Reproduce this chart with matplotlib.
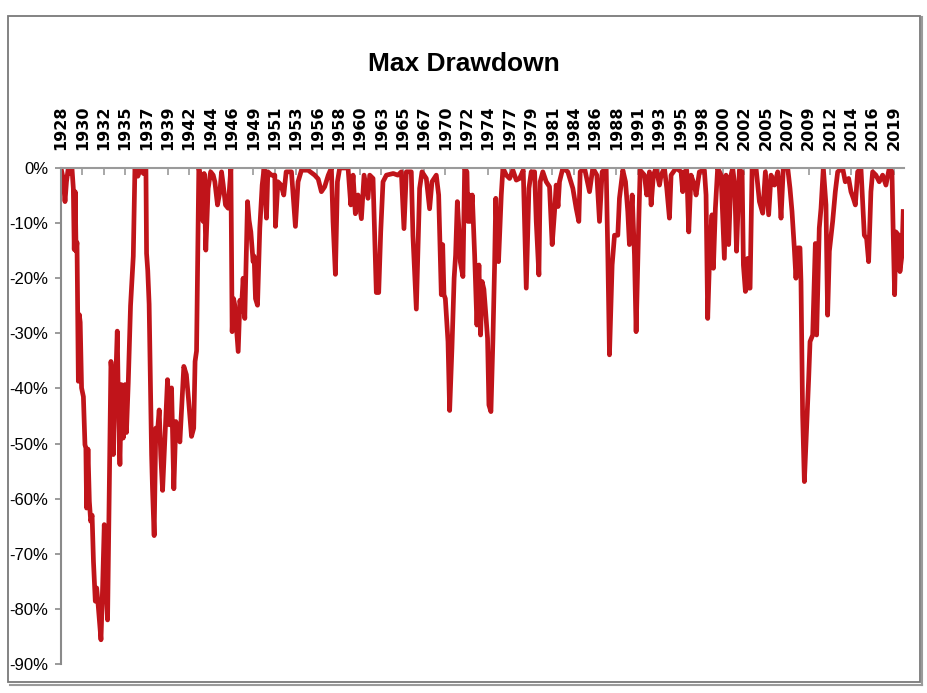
import matplotlib
matplotlib.use("Agg")
import matplotlib.pyplot as plt
from matplotlib.patches import Rectangle
from matplotlib.lines import Line2D

# category labels on the top axis (one every 28 months)
tick_years = [1928, 1930, 1932, 1935, 1937, 1939, 1942, 1944, 1946, 1949,
              1951, 1953, 1956, 1958, 1960, 1963, 1965, 1967, 1970, 1972,
              1974, 1977, 1979, 1981, 1984, 1986, 1988, 1991, 1993, 1995,
              1998, 2000, 2002, 2005, 2007, 2009, 2012, 2014, 2016, 2019]

y_ticks = [0, -10, -20, -30, -40, -50, -60, -70, -80, -90]

# drawdown path (year, % below previous peak)
years = [
    1928.00, 1928.25, 1928.44, 1928.60, 1928.80, 1929.00, 1929.20, 1929.35, 1929.45, 1929.55,
    1929.65, 1929.75, 1929.82, 1929.90, 1930.00, 1930.10, 1930.25, 1930.45, 1930.62, 1930.72,
    1930.80, 1930.95, 1931.10, 1931.25, 1931.40, 1931.55, 1931.75, 1931.90, 1932.05, 1932.37,
    1932.55, 1932.73, 1932.90, 1933.09, 1933.30, 1933.46, 1933.60, 1933.72, 1933.85, 1934.00,
    1934.15, 1934.30, 1934.44, 1934.60, 1934.80, 1934.99, 1935.15, 1935.35, 1935.60, 1935.90,
    1936.08, 1936.40, 1936.70, 1937.00, 1937.28, 1937.35, 1937.48, 1937.63, 1937.90, 1938.00,
    1938.18, 1938.36, 1938.55, 1938.73, 1938.90, 1939.10, 1939.35, 1939.64, 1939.85, 1940.08,
    1940.33, 1940.55, 1940.75, 1940.99, 1941.42, 1941.70, 1941.95, 1942.26, 1942.50, 1942.65,
    1942.81, 1943.06, 1943.30, 1943.53, 1943.64, 1943.82, 1944.08, 1944.35, 1944.63, 1944.81,
    1945.10, 1945.36, 1945.54, 1945.72, 1945.97, 1946.26, 1946.56, 1946.70, 1946.85, 1946.99,
    1947.36, 1947.55, 1947.70, 1947.90, 1948.08, 1948.38, 1948.55, 1948.74, 1948.99, 1949.10,
    1949.25, 1949.47, 1949.72, 1949.98, 1950.19, 1950.45, 1950.60, 1951.00, 1951.36, 1951.43,
    1951.70, 1952.05, 1952.34, 1952.60, 1953.18, 1953.61, 1953.90, 1954.27, 1955.00, 1955.72,
    1956.10, 1956.45, 1956.81, 1957.20, 1957.54, 1957.72, 1957.98, 1958.20, 1958.45, 1959.36,
    1959.66, 1959.91, 1960.16, 1960.45, 1960.82, 1961.11, 1961.54, 1961.73, 1962.09, 1962.45,
    1962.71, 1962.93, 1963.18, 1963.55, 1964.30, 1964.80, 1965.18, 1965.47, 1965.73, 1966.27,
    1966.45, 1966.82, 1967.18, 1967.44, 1967.91, 1968.27, 1968.53, 1969.00, 1969.26, 1969.55,
    1969.70, 1969.84, 1969.99, 1970.28, 1970.46, 1970.71, 1970.95, 1971.11, 1971.30, 1971.50,
    1971.62, 1971.91, 1972.10, 1972.35, 1972.46, 1972.60, 1972.71, 1972.93, 1973.19, 1973.44,
    1973.66, 1973.84, 1974.00, 1974.20, 1974.39, 1974.60, 1974.75, 1974.97, 1975.19, 1975.37,
    1975.50, 1975.65, 1975.80, 1976.10, 1976.28, 1976.65, 1977.01, 1977.37, 1977.74, 1978.10,
    1978.50, 1978.83, 1979.12, 1979.37, 1979.74, 1979.92, 1980.21, 1980.35, 1980.64, 1981.01,
    1981.37, 1981.66, 1981.92, 1982.10, 1982.30, 1982.46, 1982.83, 1983.37, 1983.92, 1984.28,
    1984.57, 1984.72, 1985.19, 1985.74, 1986.10, 1986.54, 1986.83, 1987.12, 1987.56, 1987.74,
    1987.92, 1988.21, 1988.47, 1988.83, 1989.01, 1989.38, 1989.67, 1989.92, 1990.10, 1990.40,
    1990.65, 1990.83, 1991.12, 1991.27, 1991.74, 1991.99, 1992.29, 1992.47, 1992.72, 1993.01,
    1993.38, 1993.56, 1993.92, 1994.18, 1994.47, 1994.65, 1995.20, 1995.74, 1995.92, 1996.10,
    1996.36, 1996.58, 1996.83, 1997.20, 1997.38, 1997.74, 1998.29, 1998.47, 1998.65, 1998.91,
    1999.12, 1999.27, 1999.49, 1999.74, 2000.11, 2000.47, 2000.65, 2000.94, 2001.20, 2001.38,
    2001.60, 2001.80, 2002.11, 2002.41, 2002.55, 2002.77, 2003.02, 2003.15, 2003.28, 2003.50,
    2003.93, 2004.30, 2004.66, 2004.95, 2005.31, 2005.57, 2005.94, 2006.30, 2006.48, 2006.66,
    2006.91, 2007.39, 2007.64, 2007.86, 2008.11, 2008.29, 2008.48, 2008.73, 2008.84, 2009.02,
    2009.21, 2009.46, 2009.68, 2009.83, 2010.12, 2010.41, 2010.55, 2010.84, 2011.03, 2011.28,
    2011.57, 2011.75, 2011.94, 2012.30, 2012.59, 2012.85, 2013.39, 2013.68, 2014.05, 2014.30,
    2014.56, 2014.78, 2015.03, 2015.39, 2015.76, 2016.01, 2016.23, 2016.48, 2016.67, 2017.03,
    2017.39, 2017.76, 2018.12, 2018.49, 2018.78, 2018.92, 2019.07, 2019.21, 2019.50, 2019.65,
    2019.87, 2020.01,
]

drawdown = [
    0.0, -2.0, -6.1, -2.5, 0.0, -1.0, 0.0, -3.7, -14.8, -4.3,
    -15.1, -13.5, -25.4, -38.7, -26.6, -28.0, -39.9, -41.5, -50.2, -50.8,
    -61.7, -51.0, -60.5, -64.1, -63.0, -71.4, -78.6, -76.2, -79.0, -85.6,
    -76.0, -64.7, -75.0, -82.0, -54.7, -35.1, -38.1, -52.0, -37.0, -37.5,
    -29.6, -46.0, -53.8, -39.3, -49.0, -39.3, -48.0, -39.0, -25.0, -16.0,
    0.0, -1.5, 0.0, -1.0, 0.0, -15.5, -18.6, -24.7, -52.0, -58.2,
    -66.7, -47.2, -47.8, -43.9, -52.1, -58.5, -49.0, -38.4, -46.6, -39.9,
    -58.2, -46.0, -47.2, -49.7, -36.0, -37.5, -42.3, -48.7, -47.2, -35.1,
    -33.2, 0.0, -2.0, -9.7, -1.0, -14.9, -3.7, -0.7, -1.3, -2.5,
    -6.7, -4.3, -0.7, -3.0, -6.7, -7.3, 0.0, -29.7, -23.7, -24.9,
    -33.3, -24.0, -26.0, -20.0, -27.3, -6.1, -9.5, -11.6, -17.0, -16.0,
    -23.7, -24.9, -10.9, -3.1, 0.0, -9.1, -0.7, -1.3, -1.3, -10.6,
    -2.5, -3.1, -4.9, -0.7, -0.7, -10.6, -2.5, -0.4, -0.4, -1.3,
    -2.0, -4.3, -3.4, -1.3, 0.0, -9.7, -19.3, -2.5, 0.0, 0.0,
    -6.7, -1.3, -8.3, -4.9, -9.2, -1.3, -5.5, -1.3, -1.9, -22.6,
    -22.6, -11.6, -2.5, -1.3, -1.0, -1.3, -0.7, -11.0, -0.7, -0.7,
    -12.3, -25.6, -3.7, -0.7, -1.9, -7.4, -2.5, -1.3, -4.9, -23.0,
    -13.9, -23.0, -23.7, -31.5, -44.0, -32.7, -20.0, -15.8, -6.1, -12.0,
    -17.0, -19.7, 0.0, -0.7, -9.7, -4.9, -9.7, -4.9, -15.8, -28.5,
    -17.6, -30.3, -20.6, -22.0, -26.1, -30.9, -43.0, -44.2, -30.9, -17.6,
    -5.5, -14.0, -17.0, -4.9, 0.0, -1.3, -1.9, -0.4, -2.2, -1.9,
    -0.4, -21.8, -3.7, -0.7, -0.7, -9.7, -19.4, -2.5, -0.7, -2.5,
    -3.4, -13.9, -7.9, -3.1, -7.0, -2.5, 0.0, -0.7, -3.7, -7.3,
    -9.7, -0.7, 0.0, -4.3, 0.0, -1.3, -9.7, -0.7, 0.0, -15.8,
    -33.9, -17.6, -12.2, -12.2, -5.5, -0.4, -2.5, -7.9, -13.9, -4.9,
    -15.8, -29.7, -9.7, -0.4, -1.3, -4.9, -0.7, -6.7, -1.3, 0.0,
    -3.1, -1.3, 0.0, -3.7, -9.1, -1.3, 0.0, -0.7, -4.3, -0.7,
    -0.4, -11.6, -1.3, -3.1, -4.9, -0.7, -0.4, -4.9, -27.3, -13.3,
    -8.5, -18.2, -7.3, 0.0, -1.3, -16.4, -1.3, -13.9, -1.3, 0.0,
    -3.1, -15.1, -0.4, -0.7, -17.6, -22.4, -16.4, -21.8, -21.8, 0.0,
    0.0, -6.1, -8.2, -0.7, -8.5, -1.3, -3.1, -0.7, -3.7, -9.1,
    0.0, 0.0, -3.7, -7.9, -14.5, -20.0, -14.5, -14.5, -20.6, -44.8,
    -56.9, -47.2, -38.2, -31.5, -30.3, -13.7, -30.3, -10.9, -7.3, 0.0,
    -6.7, -26.7, -15.1, -9.7, -4.3, -0.7, 0.0, -2.5, -1.9, -4.3,
    -5.5, -6.7, -0.7, 0.0, -12.2, -12.8, -17.0, -4.3, -0.7, -1.3,
    -2.5, -1.3, -3.1, 0.0, -0.7, -12.2, -23.0, -11.6, -12.2, -18.8,
    -15.8, -7.9,
]

narrow = ["Liberation Sans Narrow", "Liberation Sans", "DejaVu Sans"]

fig = plt.figure(figsize=(9.28, 6.93), dpi=100)
ax = fig.add_axes([0.0657, 0.0418, 0.908, 0.7158])

ax.plot(years, drawdown, color="#C0141A", lw=3.4, solid_joinstyle="round")

ax.set_xlim(1928, 2020.05)
ax.set_ylim(-90, 0)

# x axis sits on the 0% line, labels above it
tick_pos = [1928 + k * 28 / 12 for k in range(len(tick_years))]
ax.xaxis.tick_top()
ax.set_xticks(tick_pos)
ax.set_xticklabels([str(y) for y in tick_years], rotation=90,
                   fontweight="bold", fontsize=11.5, family="DejaVu Sans")
ax.tick_params(axis="x", direction="in", length=5, width=1.2,
               color="#9a9a9a", pad=13, labelcolor="black")

ax.set_yticks(y_ticks)
ax.set_yticklabels([f"{v}%" for v in y_ticks], fontsize=12, family=narrow)
ax.tick_params(axis="y", direction="out", length=4, width=1.2,
               color="#8a8a8a", pad=5, labelcolor="black")

for side in ["right", "bottom"]:
    ax.spines[side].set_visible(False)
ax.spines["top"].set_color("#9a9a9a")
ax.spines["left"].set_color("#8a8a8a")
ax.spines["top"].set_linewidth(1.5)
ax.spines["left"].set_linewidth(1.5)

fig.text(0.5, 0.908, "Max Drawdown", ha="center", va="center",
         fontsize=19, fontweight="bold", family=narrow)

# chart frame with a light shadow
fig.patches.append(Rectangle((0.0086, 0.0159), 0.983, 0.961,
                             transform=fig.transFigure, fill=False,
                             edgecolor="#7a7a7a", lw=1.3))
fig.lines.append(Line2D([0.9935, 0.9935], [0.012, 0.975],
                        transform=fig.transFigure, color="#9a9a9a", lw=1.5))
fig.lines.append(Line2D([0.011, 0.9935], [0.012, 0.012],
                        transform=fig.transFigure, color="#9a9a9a", lw=1.5))

fig.savefig("out.png", dpi=100)
